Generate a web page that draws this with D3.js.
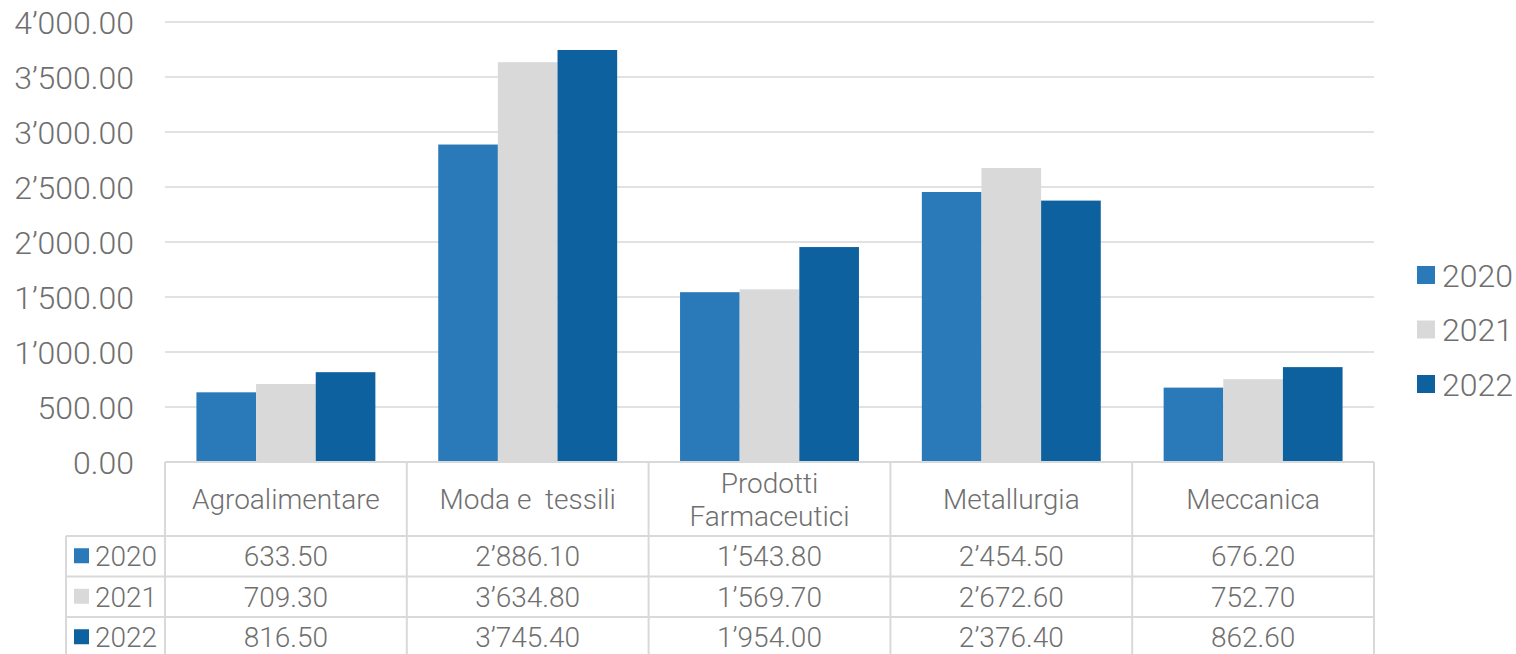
<!DOCTYPE html>
<html>
<head>
<meta charset="utf-8">
<script src="https://cdn.jsdelivr.net/npm/d3@7"></script>
<style>
  body { margin: 0; background: #fff; }
  svg { display: block; font-family: Roboto, "Open Sans", sans-serif; font-weight: 300; }
  text { white-space: pre; }
</style>
</head>
<body>
<svg id="chart" width="1516" height="654"></svg>
<script>
const categories = [["Agroalimentare"], ["Moda e  tessili"], ["Prodotti", "Farmaceutici"], ["Metallurgia"], ["Meccanica"]];
const seriesNames = ["2020", "2021", "2022"];
const values2020 = [633.5, 2886.1, 1543.8, 2454.5, 676.2];
const values2021 = [709.3, 3634.8, 1569.7, 2672.6, 752.7];
const values2022 = [816.5, 3745.4, 1954.0, 2376.4, 862.6];
const yTicks = [0, 500, 1000, 1500, 2000, 2500, 3000, 3500, 4000];
const colors = ["#2a7aba", "#d9d9d9", "#0d619f"];

const series = [values2020, values2021, values2022];
const svg = d3.select("#chart");
const textColor = "#6f6f6f";
const lineColor = "#d9d9d9";

const loc = d3.formatLocale({decimal: ".", thousands: "\u2019", grouping: [3], currency: ["", ""]});
const fmt = loc.format(",.2f");

const plotLeft = 165, plotRight = 1374, plotTop = 22, plotBottom = 462;
const x = d3.scaleBand().domain(d3.range(categories.length)).range([plotLeft, plotRight]).paddingInner(0).paddingOuter(0);
const bw = x.bandwidth();
const gap = bw * 0.13;
const xs = d3.scaleBand().domain(d3.range(seriesNames.length)).range([gap, bw - gap]).padding(0);
const y = d3.scaleLinear().domain([0, 4000]).range([plotBottom, plotTop]);

// gridlines
svg.append("g").selectAll("line").data(yTicks.filter(d => d > 0)).join("line")
  .attr("x1", plotLeft).attr("x2", plotRight)
  .attr("y1", d => y(d)).attr("y2", d => y(d))
  .attr("stroke", lineColor).attr("stroke-width", 1.5);

// y tick labels
svg.append("g").selectAll("text").data(yTicks).join("text")
  .attr("x", 134).attr("y", d => y(d)).attr("dy", "0.36em")
  .attr("text-anchor", "end").attr("fill", textColor).attr("font-size", 32)
  .text(d => fmt(d));

// bars
series.forEach((vals, si) => {
  svg.append("g").selectAll("rect").data(vals).join("rect")
    .attr("x", (d, i) => x(i) + xs(si))
    .attr("width", xs.bandwidth())
    .attr("y", d => y(d))
    .attr("height", d => y(0) - y(d))
    .attr("fill", colors[si]);
});

// legend
const legend = svg.append("g");
seriesNames.forEach((s, i) => {
  const cy = 275 + i * 54.5;
  legend.append("rect").attr("x", 1417).attr("y", cy - 9).attr("width", 18).attr("height", 18).attr("fill", colors[i]);
  legend.append("text").attr("x", 1442).attr("y", cy).attr("dy", "0.36em")
    .attr("fill", textColor).attr("font-size", 32).text(s);
});

// data table
const tbl = svg.append("g");
const headerTop = plotBottom, headerBottom = 536, rowH = 40.5, labelLeft = 66;
const rowTops = seriesNames.map((s, i) => headerBottom + i * rowH);
tbl.append("line").attr("x1", plotLeft).attr("x2", plotRight).attr("y1", headerTop).attr("y2", headerTop)
  .attr("stroke", lineColor).attr("stroke-width", 2);
rowTops.forEach(t => {
  tbl.append("line").attr("x1", labelLeft).attr("x2", plotRight).attr("y1", t).attr("y2", t)
    .attr("stroke", lineColor).attr("stroke-width", 2);
});
d3.range(categories.length + 1).forEach(i => {
  const xx = i < categories.length ? x(i) : plotRight;
  tbl.append("line").attr("x1", xx).attr("x2", xx).attr("y1", headerTop).attr("y2", 654)
    .attr("stroke", lineColor).attr("stroke-width", 2);
});
tbl.append("line").attr("x1", labelLeft).attr("x2", labelLeft).attr("y1", headerBottom).attr("y2", 654)
  .attr("stroke", lineColor).attr("stroke-width", 2);

// header labels
categories.forEach((lines, i) => {
  const cx = x(i) + bw / 2;
  const cy = (headerTop + headerBottom) / 2;
  const lh = 33;
  lines.forEach((ln, j) => {
    tbl.append("text").attr("x", cx).attr("y", cy + (j - (lines.length - 1) / 2) * lh).attr("dy", "0.36em")
      .attr("text-anchor", "middle").attr("fill", textColor).attr("font-size", 28).text(ln);
  });
});

// rows
series.forEach((vals, si) => {
  const cy = rowTops[si] + rowH / 2;
  tbl.append("rect").attr("x", 74).attr("y", cy - 8).attr("width", 15).attr("height", 15).attr("fill", colors[si]);
  tbl.append("text").attr("x", 95).attr("y", cy).attr("dy", "0.36em")
    .attr("fill", textColor).attr("font-size", 28).text(seriesNames[si]);
  vals.forEach((v, i) => {
    tbl.append("text").attr("x", x(i) + bw / 2).attr("y", cy).attr("dy", "0.36em")
      .attr("text-anchor", "middle").attr("fill", textColor).attr("font-size", 28).text(fmt(v));
  });
});
</script>
</body>
</html>
